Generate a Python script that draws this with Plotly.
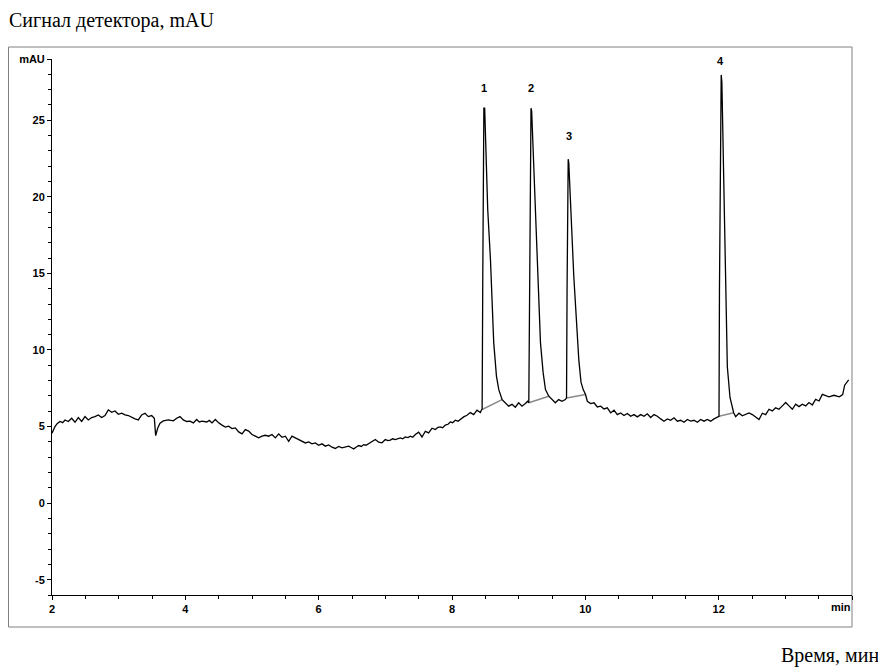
import plotly.graph_objects as go

# ---- data ----
time_min = [
    2.00, 2.045, 2.08, 2.12, 2.16, 2.195, 2.245, 2.295, 2.345, 2.395, 2.445, 2.495, 2.545, 2.595,
    2.645, 2.695, 2.745, 2.795, 2.845, 2.895, 2.945, 2.995, 3.045, 3.095, 3.145, 3.195, 3.245,
    3.295, 3.345, 3.395, 3.445, 3.495, 3.535, 3.555, 3.585, 3.62, 3.67, 3.745, 3.82, 3.87, 3.92,
    3.97, 4.02, 4.07, 4.12, 4.17, 4.21, 4.25, 4.32, 4.36, 4.40, 4.45, 4.50, 4.55, 4.60, 4.65,
    4.70, 4.75, 4.80, 4.85, 4.90, 4.95, 5.00, 5.05, 5.10, 5.15, 5.20, 5.25, 5.30, 5.35, 5.40,
    5.45, 5.50, 5.55, 5.60, 5.65, 5.70, 5.75, 5.80, 5.85, 5.90, 5.95, 6.00, 6.05, 6.10, 6.15,
    6.20, 6.25, 6.30, 6.35, 6.40, 6.45, 6.50, 6.525, 6.56, 6.60, 6.64, 6.675, 6.71, 6.75, 6.80,
    6.85, 6.90, 6.95, 7.00, 7.04, 7.075, 7.11, 7.15, 7.19, 7.225, 7.26, 7.30, 7.34, 7.375, 7.41,
    7.45, 7.50, 7.55, 7.60, 7.65, 7.70, 7.75, 7.79, 7.825, 7.86, 7.90, 7.94, 7.975, 8.01, 8.05,
    8.09, 8.125, 8.175, 8.225, 8.275, 8.325, 8.375, 8.425, 8.450,
    # peak 1
    8.452, 8.462, 8.472, 8.478, 8.490, 8.512, 8.536, 8.577, 8.602, 8.626, 8.667, 8.702, 8.752,
    8.80, 8.85, 8.90, 8.95, 9.00, 9.05, 9.10, 9.135,
    # peak 2
    9.152, 9.162, 9.176, 9.185, 9.195, 9.278, 9.327, 9.367, 9.402, 9.452,
    9.50, 9.55, 9.60, 9.65, 9.70,
    # peak 3
    9.718, 9.726, 9.736, 9.743, 9.752, 9.827, 9.902, 9.935, 9.968, 10.003,
    10.03, 10.08, 10.13, 10.18, 10.23, 10.28, 10.33, 10.38, 10.43, 10.48, 10.53, 10.58, 10.63,
    10.68, 10.73, 10.78, 10.83, 10.88, 10.93, 10.98, 11.03, 11.08, 11.13, 11.18, 11.23, 11.28,
    11.33, 11.38, 11.43, 11.48, 11.53, 11.58, 11.63, 11.68, 11.73, 11.78, 11.83, 11.88, 11.93,
    11.98,
    # peak 4
    12.005, 12.012, 12.025, 12.038, 12.048, 12.07, 12.105, 12.13, 12.17, 12.205, 12.225,
    12.255, 12.305, 12.355, 12.405, 12.455, 12.505, 12.555, 12.605, 12.655, 12.705, 12.755,
    12.805, 12.855, 12.905, 12.955, 13.005, 13.055, 13.105, 13.155, 13.205, 13.255, 13.305,
    13.355, 13.405, 13.455, 13.505, 13.555, 13.605, 13.655, 13.73, 13.81, 13.86, 13.89, 13.95,
]
signal_mau = [
    4.57, 5.00, 5.20, 5.33, 5.25, 5.43, 5.33, 5.54, 5.28, 5.59, 5.33, 5.65, 5.43, 5.59,
    5.65, 5.76, 5.59, 5.72, 6.09, 5.93, 6.02, 5.80, 5.87, 5.76, 5.72, 5.59, 5.50,
    5.43, 5.76, 5.87, 5.65, 5.72, 5.54, 4.41, 4.89, 5.22, 5.37, 5.43, 5.37, 5.54, 5.65,
    5.43, 5.33, 5.35, 5.24, 5.46, 5.30, 5.35, 5.30, 5.40, 5.24, 5.46, 5.24, 5.09, 4.96, 5.02,
    4.87, 4.91, 4.65, 4.52, 4.80, 4.70, 4.48, 4.37, 4.26, 4.37, 4.43, 4.37, 4.48, 4.26, 4.52,
    4.30, 4.37, 4.04, 4.37, 4.26, 4.15, 4.08, 3.93, 4.00, 3.87, 3.93, 3.78, 3.87, 3.72, 3.80,
    3.65, 3.57, 3.70, 3.61, 3.68, 3.72, 3.60, 3.54, 3.65, 3.76, 3.70, 3.82, 3.78, 3.89, 4.04,
    4.15, 3.98, 3.94, 4.15, 4.08, 4.11, 4.20, 4.15, 4.22, 4.26, 4.20, 4.32, 4.28, 4.37, 4.30,
    4.48, 4.63, 4.32, 4.69, 4.59, 4.89, 4.80, 4.95, 4.98, 4.92, 5.09, 5.15, 5.30, 5.25, 5.41,
    5.35, 5.48, 5.63, 5.74, 5.91, 5.78, 6.07, 5.91, 6.15,
    6.11, 15.0, 25.0, 25.79, 25.79, 22.42, 19.16, 15.89, 12.63, 10.48, 8.28, 7.41, 6.76,
    6.55, 6.33, 6.45, 6.26, 6.55, 6.33, 6.50, 6.65,
    6.55, 15.0, 24.5, 25.79, 25.6, 15.89, 10.48, 8.52, 7.41, 6.98,
    6.76, 6.55, 6.76, 6.65, 6.76,
    6.87, 14.0, 21.5, 22.46, 22.2, 14.8, 9.37, 7.90, 7.41, 7.09,
    6.65, 6.50, 6.55, 6.28, 6.33, 6.15, 6.22, 5.89, 6.07, 5.78, 5.89, 5.72, 5.85,
    5.67, 5.78, 5.63, 5.78, 5.67, 5.83, 5.59, 5.78, 5.67, 5.50, 5.35, 5.50, 5.41,
    5.57, 5.35, 5.41, 5.28, 5.46, 5.35, 5.41, 5.28, 5.46, 5.35, 5.46, 5.35, 5.50,
    5.63,
    5.67, 14.0, 25.0, 27.96, 27.5, 21.77, 14.39, 8.90, 6.90, 6.10, 5.90,
    5.65, 5.87, 5.70, 5.80, 5.89, 5.78, 5.63, 5.46, 5.87, 5.78, 6.13,
    6.02, 6.22, 6.13, 6.35, 6.57, 6.35, 6.13, 6.46, 6.30, 6.46, 6.35,
    6.57, 6.41, 6.78, 6.67, 7.10, 7.00, 6.94, 7.04, 6.94, 7.09, 7.70, 8.05,
]

# integration baselines (start / end of each peak)
base_start_t = [8.452, 9.152, 9.718, 12.005]
base_start_y = [6.11, 6.55, 6.87, 5.67]
base_end_t = [8.752, 9.452, 10.003, 12.225]
base_end_y = [6.76, 6.98, 7.09, 5.90]

# peak labels
peak_names = ["1", "2", "3", "4"]
peak_t = [8.486, 9.19, 9.75, 12.03]
label_y = [27.1, 27.1, 24.0, 28.9]

x_tickvals = [2, 4, 6, 8, 10, 12, 14]
x_ticktext = ["2", "4", "6", "8", "10", "12", ""]
x_unit = "min"
y_tickvals = [-5, 0, 5, 10, 15, 20, 25, 29]
y_ticktext = ["-5", "0", "5", "10", "15", "20", "25", "mAU"]

tick_font = dict(family="Liberation Sans Narrow, Arial Narrow, Liberation Sans, Arial",
                 size=11, color="black", weight="bold")
serif = "Liberation Serif, Times New Roman, DejaVu Serif, serif"

# the page body adds an 8 px margin, so the figure is 8 px smaller and shifted
OFF = 8
W, H = 886 - OFF, 672 - OFF
L, R, T, B = 52 - OFF, W - (852 - OFF), 59 - OFF, H - (595 - OFF)
pw, ph = W - L - R, H - T - B


def px_x(p):
    return (p - OFF - L) / pw


def px_y(p):
    return (H - B - (p - OFF)) / ph


fig = go.Figure()

for i in range(len(base_start_t)):
    fig.add_trace(go.Scatter(
        x=[base_start_t[i], base_end_t[i]], y=[base_start_y[i], base_end_y[i]],
        mode="lines", line=dict(color="#8a8a8a", width=1.5),
        showlegend=False, hoverinfo="skip"))

fig.add_trace(go.Scatter(x=time_min, y=signal_mau, mode="lines",
                         line=dict(color="black", width=1.3), showlegend=False))

for name, t, yl in zip(peak_names, peak_t, label_y):
    fig.add_annotation(x=t, y=yl, text=name, showarrow=False,
                       xref="x", yref="y", font=tick_font)

# unit label at the end of the time axis
fig.add_annotation(x=x_tickvals[-1], y=px_y(607), xref="x", yref="paper",
                   text=x_unit, showarrow=False, xanchor="center", yanchor="middle",
                   xshift=-11, font=tick_font)

fig.add_annotation(x=px_x(8), y=px_y(20), xref="paper", yref="paper",
                   text="Сигнал детектора, mAU", showarrow=False,
                   xanchor="left", yanchor="middle", xshift=-1,
                   font=dict(family=serif, size=20, color="black"))
fig.add_annotation(x=px_x(881), y=px_y(655), xref="paper", yref="paper",
                   text="Время, мин", showarrow=False,
                   xanchor="right", yanchor="middle",
                   font=dict(family=serif, size=20, color="black"))

fig.add_shape(type="rect", xref="paper", yref="paper",
              x0=px_x(8.5), x1=px_x(852), y0=px_y(627), y1=px_y(47),
              line=dict(color="#808080", width=1), fillcolor="rgba(0,0,0,0)", layer="below")

fig.update_layout(
    width=W, height=H,
    margin=dict(l=L, r=R, t=T, b=B, autoexpand=False),
    paper_bgcolor="white", plot_bgcolor="white",
    xaxis=dict(range=[2, 14], tickmode="array", tickvals=x_tickvals, ticktext=x_ticktext,
               ticks="outside", ticklen=4, tickwidth=1, tickcolor="black",
               showline=True, linecolor="black", linewidth=1, showgrid=False, zeroline=False,
               tickfont=tick_font,
               minor=dict(tickmode="linear", tick0=2, dtick=0.5, ticks="outside",
                          ticklen=3, tickcolor="black", showgrid=False)),
    yaxis=dict(range=[-6, 29], tickmode="array", tickvals=y_tickvals, ticktext=y_ticktext,
               ticks="outside", ticklen=4, tickwidth=1, tickcolor="black",
               showline=True, linecolor="black", linewidth=1, showgrid=False, zeroline=False,
               tickfont=tick_font,
               minor=dict(tickmode="linear", tick0=0, dtick=1, ticks="outside",
                          ticklen=3, tickcolor="black", showgrid=False)),
)

fig.write_html("out.html")
